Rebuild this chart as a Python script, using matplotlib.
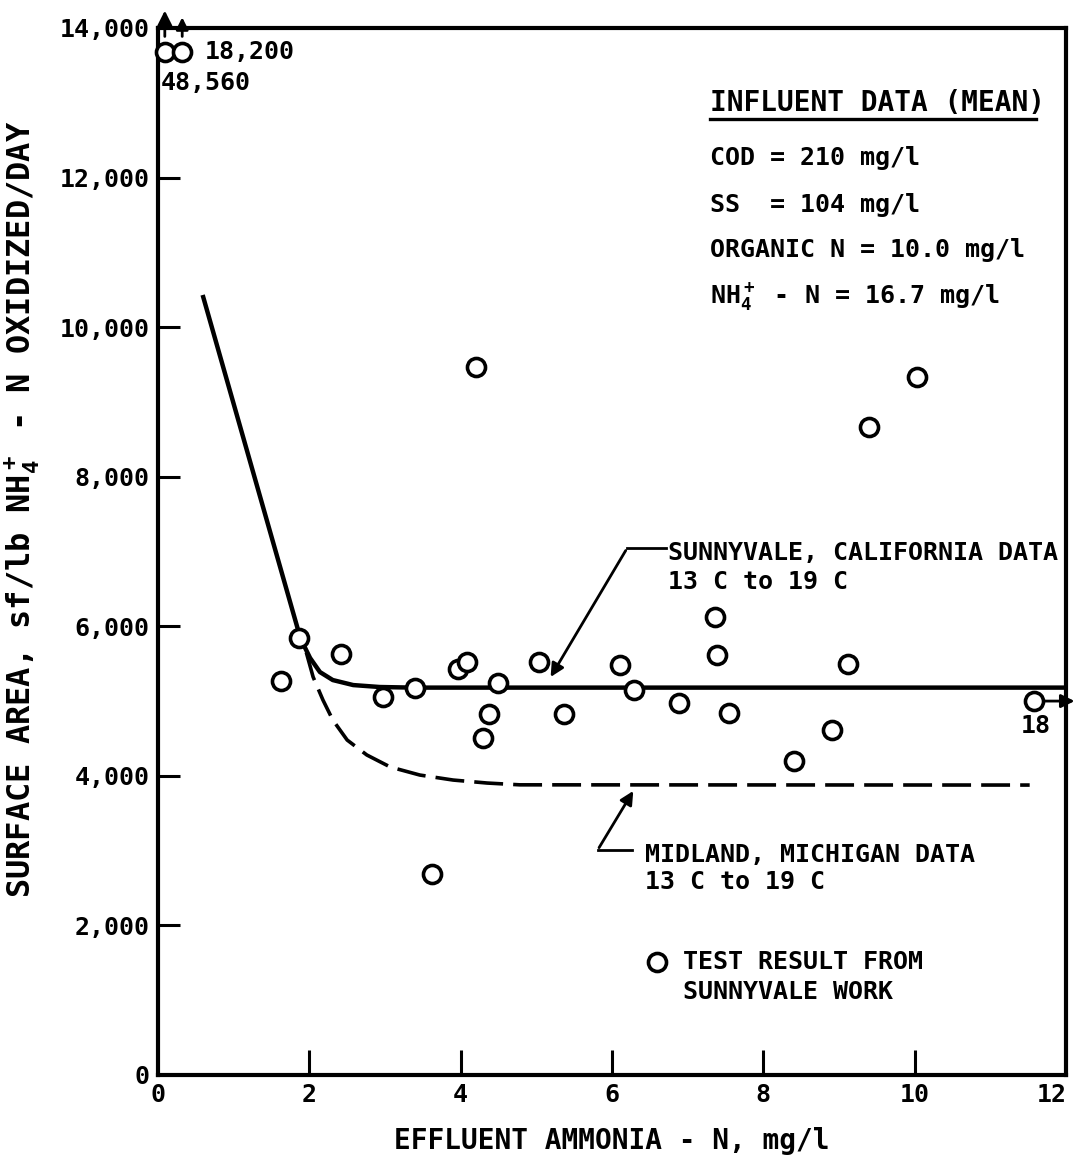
import matplotlib
matplotlib.use("Agg")
import matplotlib.pyplot as plt
from matplotlib.transforms import ScaledTranslation

plt.rcParams['font.family'] = ['DejaVu Sans Mono']
plt.rcParams['font.weight'] = 'bold'
plt.rcParams['axes.labelweight'] = 'bold'
plt.rcParams['mathtext.default'] = 'regular'

# Test results (Sunnyvale work)
pts_x = [1.62, 1.87, 2.42, 2.97, 3.39, 3.62, 3.96, 4.09, 4.20, 4.30, 4.38, 4.49,
         5.04, 5.37, 6.11, 6.29, 6.89, 7.36, 7.39, 7.54, 8.41, 8.91, 9.12, 9.39,
         10.03, 11.58]
pts_y = [5270, 5840, 5630, 5050, 5175, 2690, 5430, 5520, 9465, 4505, 4825, 5240,
         5520, 4825, 5480, 5150, 4975, 6120, 5615, 4840, 4200, 4610, 5495, 8660,
         9330, 5000]

# Off-scale points (plotted at the top with arrows)
off_x = [0.09, 0.32]
off_y = [13680, 13680]
off_labels = ["48,560", "18,200"]

# Sunnyvale, California curve
sunny_x = [0.59, 1.84, 1.88, 2.01, 2.14, 2.31, 2.58, 2.93, 3.37, 12.0]
sunny_y = [10430, 5990, 5843, 5576, 5388, 5281, 5214, 5188, 5180, 5180]

# Midland, Michigan curve
mid_x = [1.96, 2.05, 2.18, 2.31, 2.50, 2.76, 3.07, 3.46, 3.90, 4.35, 4.78, 11.52]
mid_y = [5650, 5322, 5014, 4747, 4479, 4279, 4118, 4011, 3944, 3904, 3880, 3877]

xticks = [0, 2, 4, 6, 8, 10, 12]
yticks = [0, 2000, 4000, 6000, 8000, 10000, 12000, 14000]
ytick_labels = ["0", "2,000", "4,000", "6,000", "8,000", "10,000", "12,000", "14,000"]

influent_lines = ["COD = 210 mg/l", "SS  = 104 mg/l", "ORGANIC N = 10.0 mg/l",
                  "NH$_4^+$ - N = 16.7 mg/l"]

fig = plt.figure(figsize=(10.77, 11.72), dpi=100)
ax = fig.add_axes([158/1077, 1-1075/1172, (1066-158)/1077, (1075-28)/1172])
ax.set_xlim(0, 12)
ax.set_ylim(0, 14000)

for s in ax.spines.values():
    s.set_linewidth(3)

ax.set_xticks(xticks)
ax.set_xticklabels([str(t) for t in xticks])
ax.set_yticks(yticks)
ax.set_yticklabels(ytick_labels)
ax.tick_params(axis='both', direction='in', width=2.2, labelsize=18)
ax.tick_params(axis='x', length=18, pad=6)
ax.tick_params(axis='y', length=16, pad=6)
# hide corner ticks
for t in ax.xaxis.get_major_ticks():
    if t.get_loc() in (0, 12):
        t.tick1line.set_visible(False)
for t in ax.yaxis.get_major_ticks():
    if t.get_loc() in (0, 14000):
        t.tick1line.set_visible(False)
last = ax.xaxis.get_major_ticks()[-1].label1
last.set_transform(last.get_transform() + ScaledTranslation(-14/100, 0, fig.dpi_scale_trans))

ax.set_xlabel("EFFLUENT AMMONIA - N, mg/l", fontsize=20, labelpad=14)
ax.set_ylabel("SURFACE AREA, sf/lb NH$_4^+$ - N OXIDIZED/DAY", fontsize=23)
ax.yaxis.set_label_coords(-0.128, 0.54)

# curves
ax.plot(sunny_x, sunny_y, color='black', lw=3.2, solid_capstyle='butt',
        solid_joinstyle='round', clip_on=False)
ax.plot(mid_x, mid_y, color='black', lw=2.6, dashes=(8, 2.8))

# points
mk = dict(marker='o', ms=13, mfc='white', mec='black', mew=2.6, ls='none', zorder=5,
          clip_on=False)
ax.plot(pts_x, pts_y, **mk)
ax.plot(off_x, off_y, **mk)

# arrows for off-scale points
ax.annotate("", xy=(off_x[0], 14270), xytext=(off_x[0], off_y[0] + 170),
            arrowprops=dict(arrowstyle='-|>', lw=2, color='black', mutation_scale=22),
            annotation_clip=False)
ax.annotate("", xy=(off_x[1], 14180), xytext=(off_x[1], off_y[1] + 170),
            arrowprops=dict(arrowstyle='-|>', lw=2, color='black', mutation_scale=18),
            annotation_clip=False)
ax.text(0.62, off_y[1], off_labels[1], fontsize=18, va='center', ha='left')
ax.text(0.03, 13270, off_labels[0], fontsize=18, va='center', ha='left')

# arrow for the "18" point
ax.annotate("", xy=(12.15, pts_y[-1]), xytext=(11.68, pts_y[-1]),
            arrowprops=dict(arrowstyle='-|>', lw=2, color='black', mutation_scale=20),
            annotation_clip=False)
ax.text(11.6, 4660, "18", fontsize=18, ha='center', va='center')

# influent data box
ax.text(7.30, 13000, "INFLUENT DATA (MEAN)", fontsize=20, ha='left', va='center')
ax.plot([7.30, 11.60], [12780, 12780], color='black', lw=2.4)
for line, yy in zip(influent_lines, [12260, 11630, 11030, 10400]):
    ax.text(7.30, yy, line, fontsize=18, ha='left', va='center')

# Sunnyvale label and leader
ax.text(6.74, 6985, "SUNNYVALE, CALIFORNIA DATA", fontsize=18, ha='left', va='center')
ax.text(6.74, 6590, "13 C to 19 C", fontsize=18, ha='left', va='center')
ax.plot([6.72, 6.20], [7045, 7045], color='black', lw=2)
ax.annotate("", xy=(5.17, 5290), xytext=(6.20, 7045),
            arrowprops=dict(arrowstyle='-|>', lw=2, color='black', mutation_scale=20))

# Midland label and leader
ax.text(6.43, 2945, "MIDLAND, MICHIGAN DATA", fontsize=18, ha='left', va='center')
ax.text(6.43, 2580, "13 C to 19 C", fontsize=18, ha='left', va='center')
ax.plot([6.27, 5.81], [3008, 3008], color='black', lw=2)
ax.annotate("", xy=(6.30, 3830), xytext=(5.81, 3008),
            arrowprops=dict(arrowstyle='-|>', lw=2, color='black', mutation_scale=20))

# legend
ax.plot([6.59], [1510], **mk)
ax.text(6.94, 1510, "TEST RESULT FROM", fontsize=18, ha='left', va='center')
ax.text(6.94, 1110, "SUNNYVALE WORK", fontsize=18, ha='left', va='center')

fig.savefig("out.png", dpi=100)
